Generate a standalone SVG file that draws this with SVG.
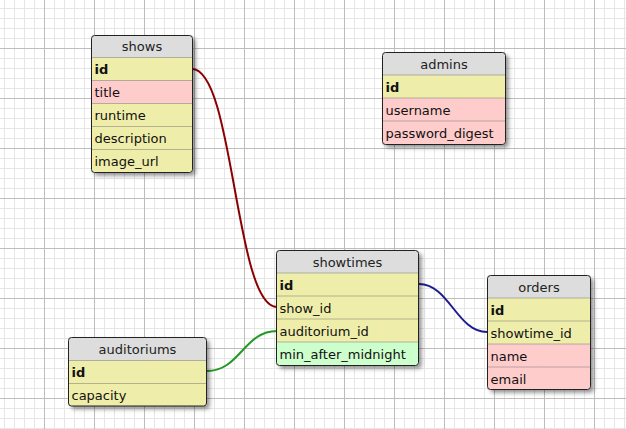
<svg xmlns="http://www.w3.org/2000/svg" width="626" height="429" viewBox="0 0 626 429">
<style>
.t{font-family:"DejaVu Sans","Verdana",sans-serif;font-size:13px;fill:#111}
.h{text-anchor:middle;fill:#222}
.b{font-weight:bold}
.hd{fill:#dddddd}
.y{fill:#eeeeaa}
.p{fill:#ffcccc}
.g{fill:#ccffcc}
.sep{stroke:#777;stroke-width:1;stroke-dasharray:1 1}
.brd{fill:none;stroke:#222;stroke-width:1}
.c{fill:none;stroke-width:2}
</style>
<defs>
<pattern id="grid" patternUnits="userSpaceOnUse" x="44" y="48" width="50" height="50">
<path d="M10.5 0V50M20.5 0V50M30.5 0V50M40.5 0V50M0 10.5H50M0 20.5H50M0 30.5H50M0 40.5H50" stroke="#e6e6e6" stroke-width="1" fill="none"/>
<path d="M0.5 0V50M0 0.5H50" stroke="#bdbdbd" stroke-width="1" fill="none"/>
</pattern>
<filter id="sh" x="-10%" y="-10%" width="130%" height="130%">
<feDropShadow dx="3" dy="3" stdDeviation="2" flood-color="#000" flood-opacity="0.45"/>
</filter>
</defs>
<rect width="626" height="429" fill="#ffffff"/>
<rect width="626" height="429" fill="url(#grid)"/>

<g id="connectors">
<path class="c" stroke="#8b0000" d="M192 69C234 69 235 307 277 307"/>
<path class="c" stroke="#1c1c8e" d="M419 284C449 284 457 332 487 332"/>
<path class="c" stroke="#229922" d="M207 371C240 371 244 331 277 331"/>
</g>

<g id="shows" transform="translate(91.5 35.5)">
<rect width="101" height="137" rx="3" class="hd" filter="url(#sh)"/>
<rect y="22" width="101" height="23" class="y"/>
<rect y="45" width="101" height="23" class="p"/>
<rect y="68" width="101" height="69" class="y"/>
<path class="sep" d="M0 22H101M0 45H101M0 68H101M0 91H101M0 114H101"/>
<rect width="101" height="137" rx="3" class="brd"/>
<text class="t h" x="50.5" y="15.5">shows</text>
<text class="t b" x="3" y="38.5">id</text>
<text class="t" x="3" y="61.5">title</text>
<text class="t" x="3" y="84.5">runtime</text>
<text class="t" x="3" y="107.5">description</text>
<text class="t" x="3" y="130.5">image_url</text>
</g>

<g id="admins" transform="translate(382.5 52.5)">
<rect width="123" height="92" rx="3" class="hd" filter="url(#sh)"/>
<rect y="22.5" width="123" height="23" class="y"/>
<rect y="45.5" width="123" height="46.5" class="p"/>
<path class="sep" d="M0 22.5H123M0 45.5H123M0 68.5H123"/>
<rect width="123" height="92" rx="3" class="brd"/>
<text class="t h" x="61.5" y="16">admins</text>
<text class="t b" x="3" y="39">id</text>
<text class="t" x="3" y="62">username</text>
<text class="t" x="3" y="85">password_digest</text>
</g>

<g id="showtimes" transform="translate(276.5 250.5)">
<rect width="142" height="115" rx="3" class="hd" filter="url(#sh)"/>
<rect y="22.5" width="142" height="69" class="y"/>
<rect y="91.5" width="142" height="23.5" class="g"/>
<path class="sep" d="M0 22.5H142M0 45.5H142M0 68.5H142M0 91.5H142"/>
<rect width="142" height="115" rx="3" class="brd"/>
<text class="t h" x="71" y="16">showtimes</text>
<text class="t b" x="3" y="39">id</text>
<text class="t" x="3" y="62">show_id</text>
<text class="t" x="3" y="85">auditorium_id</text>
<text class="t" x="3" y="108">min_after_midnight</text>
</g>

<g id="orders" transform="translate(487.5 275.5)">
<rect width="103" height="114" rx="3" class="hd" filter="url(#sh)"/>
<rect y="22.5" width="103" height="46" class="y"/>
<rect y="68.5" width="103" height="45.5" class="p"/>
<path class="sep" d="M0 22.5H103M0 45.5H103M0 68.5H103M0 91.5H103"/>
<rect width="103" height="114" rx="3" class="brd"/>
<text class="t h" x="51.5" y="16">orders</text>
<text class="t b" x="3" y="39">id</text>
<text class="t" x="3" y="62">showtime_id</text>
<text class="t" x="3" y="85">name</text>
<text class="t" x="3" y="108">email</text>
</g>

<g id="auditoriums" transform="translate(68.5 337.5)">
<rect width="138" height="68.5" rx="3" class="hd" filter="url(#sh)"/>
<rect y="23" width="138" height="45.5" class="y"/>
<path class="sep" d="M0 23H138M0 46H138"/>
<rect width="138" height="68.5" rx="3" class="brd"/>
<text class="t h" x="69" y="16.5">auditoriums</text>
<text class="t b" x="3" y="39.5">id</text>
<text class="t" x="3" y="62.5">capacity</text>
</g>
</svg>
